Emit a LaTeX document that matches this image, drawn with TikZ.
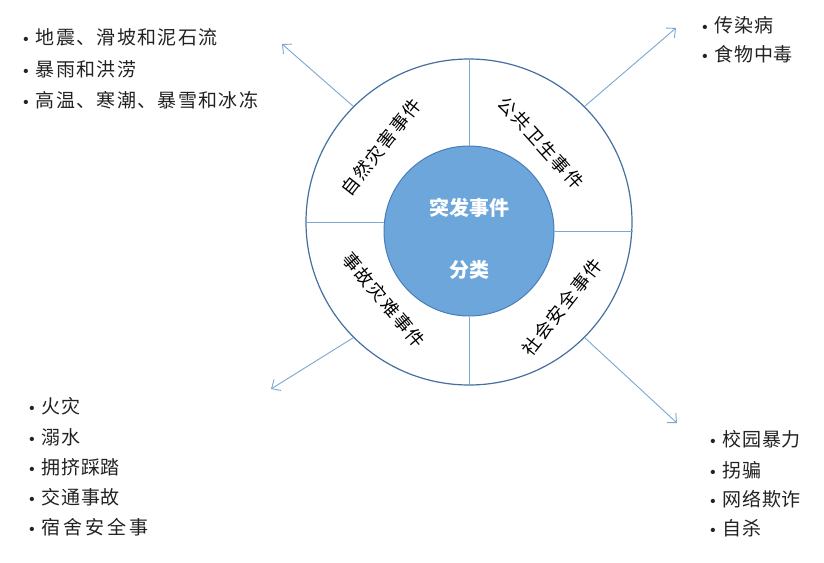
\documentclass[tikz,border=0pt]{standalone}
\usepackage{fontspec}
\newfontfamily\cjk{Noto Sans CJK SC}
\usetikzlibrary{arrows.meta}
\definecolor{ringline}{HTML}{44709F}
\definecolor{divline}{HTML}{7DA7D1}
\definecolor{corefill}{HTML}{6CA6DA}
\definecolor{coreline}{HTML}{4A7EBB}
\definecolor{arrowc}{HTML}{7DA7D1}
\definecolor{itemc}{HTML}{222222}
\begin{document}
\begin{tikzpicture}[x=1pt,y=-1pt,
  ringlabel/.style={font=\cjk\addfontfeatures{LetterSpace=10}\fontsize{18}{18}\selectfont, text=black, inner sep=0pt},
  coretext/.style={font=\cjk\bfseries\fontsize{20}{20}\selectfont, text=white, inner sep=0pt},
  itemtext/.style={font=\fontsize{19}{19}\selectfont, anchor=west, inner sep=0pt, text=itemc},
  divider/.style={draw=divline, line width=0.9pt},
  conn/.style={draw=arrowc, line width=0.9pt, -{Straight Barb[length=7pt,width=13pt]}}
]
\useasboundingbox[fill=white] (0,0) rectangle (824,562);

% circles
\node[circle, draw=ringline, line width=1.2pt, minimum size=326pt, inner sep=0pt] (outer) at (469,222) {};
\node[circle, draw=coreline, fill=corefill, line width=1pt, minimum size=170pt, inner sep=0pt] (inner) at (469,231) {};

% dividers
\draw[divider] (inner.north) -- (outer.north);
\draw[divider] (inner.south) -- (outer.south);
\draw[divider] (outer.west) -- (inner.west |- outer.west);
\draw[divider] (inner.east) -- (outer.east |- inner.east);

% centre text
\node[coretext] (c1) at (469,208) {突发事件};
\node[coretext] (c2) at (469,270) {分类};

% ring labels
\node[ringlabel, rotate=52] (r1) at (381,147) {自然灾害事件};
\node[ringlabel, rotate=-48] (r2) at (541,143) {公共卫生事件};
\node[ringlabel, rotate=-50] (r3) at (384,300) {事故灾难事件};
\node[ringlabel, rotate=52] (r4) at (562,307) {社会安全事件};

% arrows
\coordinate (ul) at (282,44);
\coordinate (ur) at (676,28);
\coordinate (ll) at (271,389);
\coordinate (lr) at (677,423);
\draw[conn] (outer.135) -- (ul);
\draw[conn] (outer.45) -- (ur);
\draw[conn] (outer.225) -- (ll);
\draw[conn] (outer.315) -- (lr);

% lists
\node[itemtext] (a1) at (19,37) {\textbullet\hspace{3pt}{\cjk\addfontfeatures{LetterSpace=7}地震、滑坡和泥石流}};
\node[itemtext] (a2) at (19,69) {\textbullet\hspace{3pt}{\cjk\addfontfeatures{LetterSpace=7}暴雨和洪涝}};
\node[itemtext] (a3) at (19,100) {\textbullet\hspace{3pt}{\cjk\addfontfeatures{LetterSpace=7}高温、寒潮、暴雪和冰冻}};

\node[itemtext] (b1) at (698,25) {\textbullet\hspace{3pt}{\cjk\addfontfeatures{LetterSpace=3}传染病}};
\node[itemtext] (b2) at (698,54) {\textbullet\hspace{3pt}{\cjk\addfontfeatures{LetterSpace=3}食物中毒}};

\node[itemtext] (d1) at (25,406) {\textbullet\hspace{3pt}{\cjk\addfontfeatures{LetterSpace=3}火灾}};
\node[itemtext] (d2) at (25,437) {\textbullet\hspace{3pt}{\cjk\addfontfeatures{LetterSpace=3}溺水}};
\node[itemtext] (d3) at (25,467) {\textbullet\hspace{3pt}{\cjk\addfontfeatures{LetterSpace=3}拥挤踩踏}};
\node[itemtext] (d4) at (25,497) {\textbullet\hspace{3pt}{\cjk\addfontfeatures{LetterSpace=3}交通事故}};
\node[itemtext] (d5) at (25,527) {\textbullet\hspace{3pt}{\cjk\addfontfeatures{LetterSpace=15}宿舍安全事}};

\node[itemtext] (e1) at (706,439) {\textbullet\hspace{3pt}{\cjk\addfontfeatures{LetterSpace=3}校园暴力}};
\node[itemtext] (e2) at (706,470) {\textbullet\hspace{3pt}{\cjk\addfontfeatures{LetterSpace=3}拐骗}};
\node[itemtext] (e3) at (706,499) {\textbullet\hspace{3pt}{\cjk\addfontfeatures{LetterSpace=3}网络欺诈}};
\node[itemtext] (e4) at (706,528) {\textbullet\hspace{3pt}{\cjk\addfontfeatures{LetterSpace=3}自杀}};
\end{tikzpicture}
\end{document}
